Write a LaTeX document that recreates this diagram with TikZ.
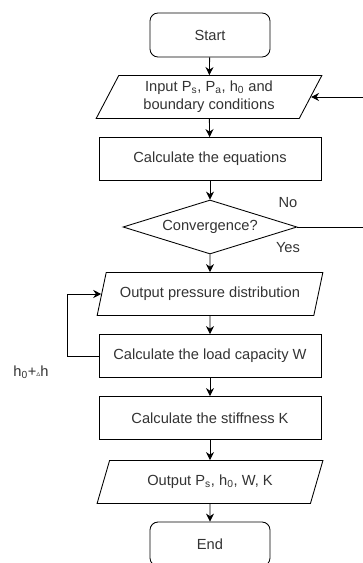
\documentclass[tikz,border=0pt]{standalone}
\usepackage{fontspec}
\setmainfont{Liberation Sans}
\newfontfamily\symf{DejaVu Sans}
\usetikzlibrary{arrows.meta}
\usetikzlibrary{shapes.geometric}

\begin{document}
\begin{tikzpicture}[x=0.75pt,y=-0.75pt,
    font=\fontsize{11}{13.5}\selectfont,
    line width=0.65pt,
    every node/.style={text=black!80},
    >={Stealth[length=6pt,width=6pt]},
    terminal/.style={draw,rounded corners=6pt,minimum width=90pt,minimum height=33pt},
    process/.style={draw,minimum width=166.5pt,minimum height=32.25pt},
    io/.style={draw,trapezium,trapezium left angle=64,trapezium right angle=116,
        trapezium stretches=true,minimum width=169.5pt,minimum height=32.25pt,align=center,inner sep=1pt},
    decision/.style={draw,diamond,aspect=3.2,inner sep=0pt,minimum width=130.5pt,minimum height=40.5pt}]

    \clip (0,0) rectangle (363,563);

    \node[terminal] (start) at (210,35) {Start};
    \node[io] (input) at (209,97) {Input P\textsubscript{s}, P\textsubscript{a}, h\textsubscript{0} and\\boundary conditions};
    \node[process] (eqs) at (210,159) {Calculate the equations};
    \node[decision] (conv) at (210,227) {Convergence?};
    \node[io] (outp) at (210,294) {Output pressure distribution};
    \node[process] (load) at (210,356) {Calculate the load capacity W};
    \node[process] (stiff) at (210,418) {Calculate the stiffness K};
    \node[io] (outk) at (210,482) {Output P\textsubscript{s}, h\textsubscript{0}, W, K};
    \node[terminal] (end) at (210,544) {End};

    \node (no) at (288,203) {No};
    \node (yes) at (288,248) {Yes};
    \node (dh) at (31,372) {h\textsubscript{0}+{\symf\fontsize{6}{6}\selectfont ▵}h};

    \draw[->] (start) -- (input);
    \draw[->] (input) -- (eqs);
    \draw[->] (eqs) -- (conv);
    \draw[->] (conv) -- (outp);
    \draw[->] (outp) -- (load);
    \draw[->] (load) -- (stiff);
    \draw[->] (stiff) -- (outk);
    \draw[->] (outk) -- (end);

    % loops
    \coordinate (back) at (375,227);
    \draw[->] (conv.east) -- (back) |- (input.east);
    \coordinate (left) at (67,356);
    \draw[->] (load.west) -- (left) |- (outp.west);
\end{tikzpicture}
\end{document}
